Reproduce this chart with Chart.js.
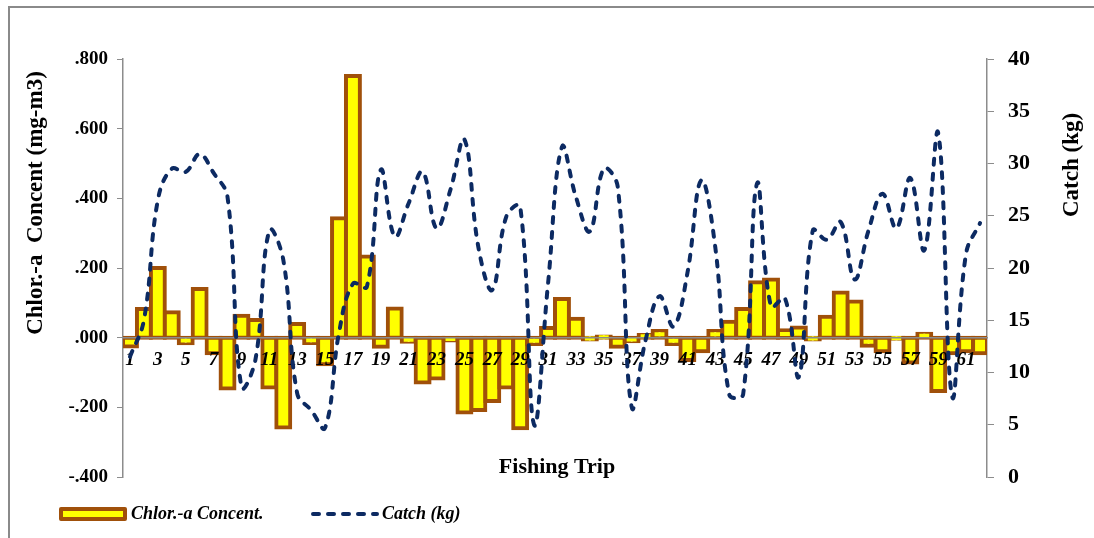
<!DOCTYPE html>
<html>
<head>
<meta charset="utf-8">
<script src="https://cdn.jsdelivr.net/npm/chart.js@4/dist/chart.umd.min.js"></script>
<style>
  html, body { margin: 0; padding: 0; background: #fff; }
  #wrap { width: 1094px; height: 538px; position: relative; }
</style>
</head>
<body>
<div id="wrap"><canvas id="c" width="1094" height="538"></canvas></div>
<script>
// Fishing trips 1..62
const trips = ['1','2','3','4','5','6','7','8','9','10','11','12','13','14','15','16','17','18','19','20',
  '21','22','23','24','25','26','27','28','29','30','31','32','33','34','35','36','37','38','39','40',
  '41','42','43','44','45','46','47','48','49','50','51','52','53','54','55','56','57','58','59','60',
  '61','62'];

// Chlorophyll-a concentration anomaly (mg-m3)
const chlor = [-0.025, 0.082, 0.200, 0.073, -0.016, 0.140, -0.045, -0.146, 0.063, 0.051,
  -0.143, -0.258, 0.039, -0.015, -0.076, 0.343, 0.751, 0.233, -0.026, 0.084,
  -0.012, -0.129, -0.117, -0.008, -0.215, -0.208, -0.182, -0.143, -0.260, -0.018,
  0.028, 0.111, 0.054, -0.005, 0.003, -0.026, -0.010, 0.008, 0.019, -0.018,
  -0.064, -0.039, 0.019, 0.046, 0.082, 0.159, 0.167, 0.021, 0.029, -0.005,
  0.060, 0.130, 0.104, -0.023, -0.039, -0.003, -0.071, 0.011, -0.153, -0.045,
  -0.039, -0.045];

// Catch per trip (kg)
const catchKg = [11.5, 15.0, 26.5, 29.5, 29.2, 30.9, 29.1, 26.8, 8.6, 11.2,
  23.6, 20.8, 8.0, 6.4, 4.7, 13.8, 18.5, 18.2, 29.4, 23.0,
  26.2, 29.2, 23.8, 27.5, 32.3, 22.0, 17.9, 24.9, 25.9, 5.0,
  18.5, 31.6, 26.8, 23.5, 29.5, 27.8, 6.7, 13.1, 17.3, 14.4,
  19.5, 28.4, 22.0, 7.9, 7.9, 28.1, 16.3, 17.1, 9.6, 23.6,
  22.7, 24.4, 18.9, 23.6, 27.1, 23.8, 28.6, 21.7, 32.9, 7.7,
  21.4, 24.3];

const chlorTicks = { min: -0.4, max: 0.8, step: 0.2 };
const catchTicks = { min: 0, max: 40, step: 5 };

const SERIF = "'Liberation Serif', 'Times New Roman', serif";
const AXIS_GREY = '#8c8c8c';
const BAR_FILL = '#FFFF00';
const BAR_EDGE = '#A0500A';
const LINE_NAVY = '#0C2A62';

function fmtChlor(v) {
  const r = Math.round(v * 1000) / 1000;
  const s = Math.abs(r).toFixed(3).replace(/^0/, '');
  return (r < 0 ? '-' : '') + s;
}

// Frame, axis titles, legend, and the catch line drawn above the category labels
const decor = {
  id: 'decor',
  beforeDraw(chart) {
    const ctx = chart.ctx;
    ctx.save();
    ctx.strokeStyle = '#8a8a8a';
    ctx.lineWidth = 2;
    ctx.beginPath();
    ctx.moveTo(9, 538);
    ctx.lineTo(9, 7);
    ctx.lineTo(1094, 7);
    ctx.stroke();
    ctx.restore();
  },
  beforeDatasetDraw(chart, args) {
    if (args.index === 1) return false;
  },
  afterDraw(chart) {
    const ctx = chart.ctx;
    // catch line on top of everything in the plot
    const meta = chart.getDatasetMeta(1);
    ctx.save();
    meta.controller.draw();
    ctx.restore();

    ctx.save();
    ctx.fillStyle = '#000';
    ctx.textAlign = 'center';
    ctx.textBaseline = 'middle';
    ctx.font = 'bold 23px ' + SERIF;
    ctx.save();
    ctx.translate(36, 203);
    ctx.rotate(-Math.PI / 2);
    ctx.fillText('Chlor.-a  Concent (mg-m3)', 0, 0);
    ctx.restore();
    ctx.save();
    ctx.translate(1072, 165);
    ctx.rotate(-Math.PI / 2);
    ctx.fillText('Catch (kg)', 0, 0);
    ctx.restore();
    ctx.font = 'bold 22px ' + SERIF;
    ctx.fillText('Fishing Trip', 557, 467);

    // legend
    const ds0 = chart.data.datasets[0];
    const ds1 = chart.data.datasets[1];
    ctx.lineJoin = 'round';
    ctx.fillStyle = ds0.backgroundColor;
    ctx.fillRect(61, 509, 64, 10);
    ctx.strokeStyle = ds0.borderColor;
    ctx.lineWidth = 4;
    ctx.strokeRect(61, 509, 64, 10);
    ctx.fillStyle = '#000';
    ctx.textAlign = 'left';
    ctx.font = 'italic bold 18px ' + SERIF;
    ctx.fillText(ds0.label, 131, 514);

    ctx.strokeStyle = ds1.borderColor;
    ctx.lineWidth = ds1.borderWidth;
    ctx.lineCap = 'round';
    ctx.setLineDash(ds1.borderDash);
    ctx.beginPath();
    ctx.moveTo(313, 514);
    ctx.lineTo(377, 514);
    ctx.stroke();
    ctx.setLineDash([]);
    ctx.fillText(ds1.label, 382, 514);
    ctx.restore();
  }
};

new Chart(document.getElementById('c'), {
  data: {
    labels: trips,
    datasets: [
      {
        type: 'bar',
        label: 'Chlor.-a Concent.',
        data: chlor,
        yAxisID: 'y',
        backgroundColor: BAR_FILL,
        borderColor: BAR_EDGE,
        borderWidth: 4,
        inflateAmount: 2,
        borderSkipped: false,
        categoryPercentage: 1.0,
        barPercentage: 1.0,
        order: 2
      },
      {
        type: 'line',
        label: 'Catch (kg)',
        data: catchKg,
        yAxisID: 'y1',
        borderColor: LINE_NAVY,
        backgroundColor: LINE_NAVY,
        borderWidth: 4,
        borderDash: [6, 9],
        borderCapStyle: 'round',
        tension: 0.4,
        pointRadius: 0,
        fill: false,
        order: 1
      }
    ]
  },
  options: {
    responsive: false,
    animation: false,
    layout: { padding: { left: 0, right: 0, top: 59, bottom: 61 } },
    plugins: { legend: { display: false }, tooltip: { enabled: false } },
    scales: {
      x: {
        type: 'category',
        position: { y: 0 },
        offset: true,
        grid: { display: false, drawTicks: false },
        border: { display: true, color: AXIS_GREY, width: 1.5, z: 1 },
        ticks: {
          z: 1,
          autoSkip: false,
          maxRotation: 0,
          padding: 11,
          color: '#000',
          font: { family: SERIF, size: 19, style: 'italic', weight: 'bold' },
          callback: (v, i) => (i % 2 === 0 ? trips[i] : '')
        }
      },
      y: {
        position: 'left',
        min: chlorTicks.min,
        max: chlorTicks.max,
        afterFit: s => { s.width = 123; },
        grid: { drawOnChartArea: false, drawTicks: true, tickLength: 6, color: AXIS_GREY },
        border: { color: AXIS_GREY, width: 1.5 },
        ticks: {
          stepSize: chlorTicks.step,
          padding: 9,
          color: '#000',
          font: { family: SERIF, size: 19, weight: 'bold' },
          callback: v => fmtChlor(v)
        }
      },
      y1: {
        position: 'right',
        min: catchTicks.min,
        max: catchTicks.max,
        afterFit: s => { s.width = 107; },
        grid: { drawOnChartArea: false, drawTicks: true, tickLength: 7, color: AXIS_GREY },
        border: { color: AXIS_GREY, width: 1.5 },
        ticks: {
          stepSize: catchTicks.step,
          padding: 14,
          color: '#000',
          font: { family: SERIF, size: 22, weight: 'bold' }
        }
      }
    }
  },
  plugins: [decor]
});
</script>
</body>
</html>
